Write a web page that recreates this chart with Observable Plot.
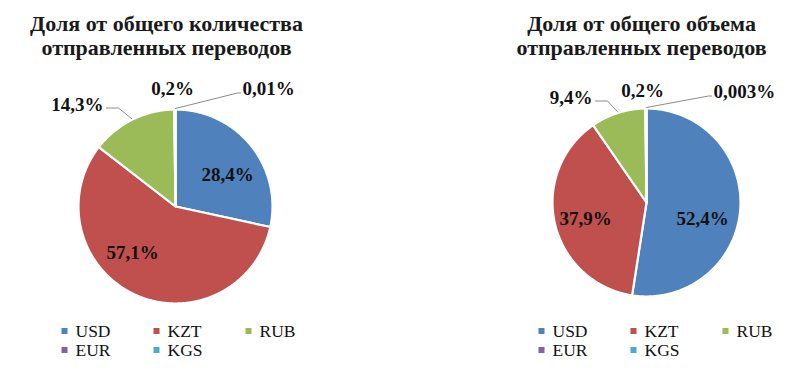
<!DOCTYPE html>
<html>
<head>
<meta charset="utf-8">
<script src="https://cdn.jsdelivr.net/npm/d3@7"></script>
<script src="https://cdn.jsdelivr.net/npm/@observablehq/plot@0.6"></script>
<style>
  html, body { margin: 0; padding: 0; background: #fff; }
  #chart svg { display: block; }
  #chart svg text { font-family: "Liberation Serif", "Times New Roman", serif !important; }
</style>
</head>
<body>
<div id="chart"></div>
<script>
// ---------- data ----------
const categories = ["USD", "KZT", "RUB", "EUR", "KGS"];
const countShares = [28.4, 57.1, 14.3, 0.2, 0.01];
const volumeShares = [52.4, 37.9, 9.4, 0.2, 0.003];
const countLabels = ["28,4%", "57,1%", "14,3%", "0,2%", "0,01%"];
const volumeLabels = ["52,4%", "37,9%", "9,4%", "0,2%", "0,003%"];
const countTitle = ["Доля от общего количества", "отправленных переводов"];
const volumeTitle = ["Доля от общего объема", "отправленных переводов"];

// ---------- styles / layout ----------
const colors = ["#4F81BD", "#C0504D", "#9BBB59", "#8064A2", "#4BACC6"];
const FONT = "Liberation Serif, Times New Roman, serif";
const W = 800, H = 383;

const layout = [
  {cx: 175, cy: 206, r: 97, titleX: 166, titleY: [23, 47], legendX: 64, legendY: [330.5, 349.5], colW: 92,
   labelOffsets: [[52, -32, "middle"], [-43, 46, "middle"], [-72, -102, "end"], [-3, -118, "middle"], [67, -118, "start"]],
   leaders: [2, 4]},
  {cx: 646, cy: 202, r: 94, titleX: 641, titleY: [23, 47], legendX: 541, legendY: [330.5, 349.5], colW: 92,
   labelOffsets: [[56, 16, "middle"], [-61, 16, "middle"], [-54, -105, "end"], [-4, -112, "middle"], [67, -111, "start"]],
   leaders: [2, 4]}
];

const pieData = [
  {values: countShares, labels: countLabels, title: countTitle},
  {values: volumeShares, labels: volumeLabels, title: volumeTitle}
];

// ---------- derived geometry ----------
const slicePts = [], labelRows = [], leaderPts = [], titleRows = [], legendRows = [];

pieData.forEach((p, pi) => {
  const L = layout[pi];
  const total = d3.sum(p.values);
  const pt = (deg, rad) => {
    const a = deg * Math.PI / 180;
    return [L.cx + rad * Math.sin(a), L.cy - rad * Math.cos(a)];
  };
  let acc = 0;
  const mids = [];
  p.values.forEach((v, i) => {
    const a0 = acc / total * 360;
    acc += v;
    const a1 = acc / total * 360;
    mids.push((a0 + a1) / 2);
    const key = pi + "-" + categories[i];
    const c = pt(0, 0);
    slicePts.push({key, x: c[0], y: c[1], color: colors[i]});
    const steps = Math.max(1, Math.ceil((a1 - a0) / 0.5));
    for (let s = 0; s <= steps; s++) {
      const [x, y] = pt(a0 + (a1 - a0) * s / steps, L.r);
      slicePts.push({key, x, y, color: colors[i]});
    }
  });
  p.labels.forEach((t, i) => {
    const [dx, dy, anchor] = L.labelOffsets[i];
    labelRows.push({text: t, x: L.cx + dx, y: L.cy + dy, anchor});
  });
  L.leaders.forEach(i => {
    const [dx, dy, anchor] = L.labelOffsets[i];
    const lx = L.cx + dx, ly = L.cy + dy;
    const key = "L" + pi + "-" + i;
    const [ex, ey] = pt(mids[i], L.r + 1);
    let elbow, end;
    if (anchor === "end") { elbow = [lx + 15, ly + 3.5]; end = [lx + 3, ly + 3.5]; }
    else { elbow = [lx - 5, ly + 4.5]; end = [lx - 2, ly + 4.5]; }
    leaderPts.push({key, x: ex, y: ey}, {key, x: elbow[0], y: elbow[1]}, {key, x: end[0], y: end[1]});
  });
  p.title.forEach((t, k) => titleRows.push({text: t, x: L.titleX, y: L.titleY[k]}));
  categories.forEach((c, i) => {
    const col = i % 3, row = Math.floor(i / 3);
    legendRows.push({text: c, x: L.legendX + col * L.colW, y: L.legendY[row], color: colors[i]});
  });
});

const chart = Plot.plot({
  width: W, height: H,
  margin: 0,
  x: {domain: [0, W], range: [0, W], axis: null},
  y: {domain: [0, H], range: [0, H], axis: null},
  style: {background: "#fff"},
  marks: [
    Plot.line(slicePts, {x: "x", y: "y", z: "key", fill: "color", stroke: "white", strokeWidth: 2.2, curve: "linear-closed", strokeLinejoin: "round"}),
    Plot.line(leaderPts, {x: "x", y: "y", z: "key", stroke: "#8c8c8c", strokeWidth: 1}),
    ...["middle", "start", "end"].map(a =>
      Plot.text(labelRows.filter(d => d.anchor === a), {x: "x", y: "y", text: "text", textAnchor: a,
        fontSize: 19, fontWeight: "bold", fill: "#111", fontFamily: FONT})),
    Plot.text(titleRows, {x: "x", y: "y", text: "text", fontSize: 22, fontWeight: "bold", fill: "#1a1a1a", fontFamily: FONT}),
    Plot.dot(legendRows, {x: "x", y: "y", fill: "color", symbol: "square", r: 3.4, stroke: null}),
    Plot.text(legendRows, {x: d => d.x + 11, y: "y", text: "text", textAnchor: "start", fontSize: 17.5, fill: "#111", fontFamily: FONT})
  ]
});
document.getElementById("chart").appendChild(chart);
</script>
</body>
</html>
